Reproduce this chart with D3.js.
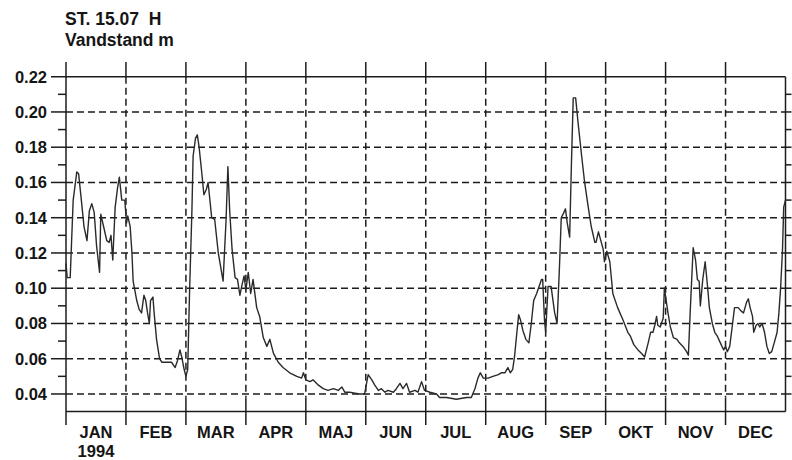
<!DOCTYPE html>
<html>
<head>
<meta charset="utf-8">
<script src="https://cdn.jsdelivr.net/npm/d3@7"></script>
<style>
  html, body { margin: 0; padding: 0; background: #fff; }
  svg { display: block; }
  text { font-family: "Liberation Sans", Arial, sans-serif; font-weight: bold; fill: #151515; }
</style>
</head>
<body>
<svg id="chart" width="792" height="460"></svg>
<script>
// ---- data ----
const titleLines = ["ST. 15.07  H", "Vandstand m"];
const months = ["JAN", "FEB", "MAR", "APR", "MAJ", "JUN", "JUL", "AUG", "SEP", "OKT", "NOV", "DEC"];
const yearLabel = "1994";
const yTickValues = [0.04, 0.06, 0.08, 0.10, 0.12, 0.14, 0.16, 0.18, 0.20, 0.22];
// time position in months since 1 Jan (equal-width months)
const monthPos = [
  // Jan
  0.00,0.02,0.07,0.12,0.18,0.21,0.25,0.30,0.35,0.39,0.43,0.47,0.51,0.56,0.58,0.62,0.68,0.72,0.75,0.78,0.82,0.86,0.89,0.93,0.98,
  // Feb
  1.01,1.03,1.07,1.10,1.12,1.18,1.22,1.26,1.30,1.33,1.36,1.39,1.41,1.45,1.47,1.51,1.56,1.60,1.68,1.76,1.82,1.86,1.90,1.93,1.97,2.00,2.03,
  // Mar
  2.06,2.10,2.12,2.16,2.19,2.22,2.26,2.30,2.34,2.37,2.43,2.48,2.54,2.59,2.62,2.67,2.70,2.73,2.77,2.82,2.86,2.90,2.93,2.97,3.00,3.04,3.08,3.12,3.18,3.23,
  // Apr - Aug
  3.29,3.35,3.40,3.46,3.54,3.62,3.73,3.85,3.93,3.96, 4.00,4.07,4.12,4.21,4.29,4.37,4.46,4.54,4.60,4.65,
  4.73,4.82,4.90,4.98,5.04,5.10,5.15,5.21,5.26,5.32, 5.37,5.46,5.51,5.57,5.62,5.68,5.73,5.82,5.87,5.93,
  5.98,6.07,6.18,6.23,6.35,6.51,6.68,6.76,6.82,6.87, 6.91,6.96,7.04,7.12,7.21,7.26,7.32,7.37,7.41,7.45,
  7.48,7.52,7.55,7.58,7.62,7.67,7.72,7.76,7.80,7.85, 7.89,7.93,
  // Sep
  7.95,7.98,8.00,8.04,8.09,8.15,8.19,8.23,8.26,8.29, 8.33,8.36,8.40,8.43,8.46,8.50,8.54,8.60,8.65,8.71,
  8.76,8.82,8.84,8.88,8.92,8.96,8.98,9.02,9.07,9.12, 9.20,9.29,9.37,
  // Oct - Dec
  9.41,9.47,9.54,9.60,9.65,9.71,9.75,9.79,9.82,9.85, 9.87,9.91,9.96,9.98,10.01,10.04,10.08,10.13,10.19,10.23,
  10.29,10.35,10.38,10.41,10.46,10.50,10.53,10.56,10.58,10.62, 10.66,10.70,10.73,10.78,10.82,10.86,10.90,10.94,10.97,11.00,
  11.03,11.07,11.11,11.15,11.21,11.26,11.30,11.35,11.38,11.41, 11.45,11.47,11.51,11.54,11.57,11.61,11.65,11.69,11.73,11.77,
  11.82,11.86,11.89,11.92,11.95,11.97,12.00
];
// water level, metres
const level = [
  // Jan
  0.114,0.106,0.106,0.150,0.166,0.165,0.152,0.135,0.127,0.144,0.148,0.143,0.124,0.109,0.142,0.136,0.127,0.126,0.130,0.116,0.146,0.157,0.163,0.150,0.150,
  // Feb
  0.137,0.141,0.135,0.120,0.104,0.093,0.088,0.086,0.096,0.093,0.086,0.080,0.093,0.095,0.086,0.071,0.060,0.058,0.058,0.058,0.055,0.059,0.065,0.061,0.054,0.050,0.054,
  // Mar
  0.097,0.144,0.175,0.185,0.187,0.180,0.167,0.153,0.156,0.160,0.140,0.139,0.120,0.110,0.104,0.139,0.169,0.144,0.122,0.106,0.105,0.096,0.101,0.107,0.099,0.109,0.097,0.105,0.089,0.084,
  // Apr - Aug
  0.072,0.067,0.071,0.063,0.058,0.055,0.052,0.050,0.049,0.052, 0.048,0.047,0.048,0.045,0.043,0.042,0.043,0.042,0.044,0.041,
  0.041,0.0405,0.040,0.040,0.051,0.048,0.045,0.042,0.043,0.041, 0.042,0.041,0.043,0.046,0.043,0.046,0.041,0.042,0.041,0.047,
  0.042,0.041,0.040,0.038,0.038,0.037,0.038,0.038,0.043,0.049, 0.052,0.049,0.049,0.050,0.051,0.052,0.052,0.055,0.052,0.054,
  0.061,0.075,0.085,0.082,0.076,0.071,0.069,0.080,0.093,0.097, 0.101,0.105,
  // Sep
  0.105,0.082,0.075,0.101,0.101,0.086,0.080,0.112,0.140,0.142, 0.145,0.137,0.129,0.171,0.208,0.208,0.194,0.175,0.160,0.146,
  0.135,0.126,0.126,0.132,0.127,0.122,0.115,0.121,0.115,0.097, 0.089,0.082,0.075,
  // Oct - Dec
  0.073,0.068,0.065,0.063,0.061,0.069,0.075,0.075,0.079,0.084, 0.079,0.078,0.083,0.100,0.093,0.086,0.078,0.072,0.071,0.069,
  0.067,0.064,0.062,0.086,0.123,0.116,0.105,0.104,0.090,0.105, 0.115,0.101,0.089,0.080,0.075,0.073,0.070,0.067,0.065,0.067,
  0.064,0.067,0.078,0.089,0.089,0.087,0.086,0.092,0.094,0.089, 0.084,0.075,0.079,0.080,0.078,0.080,0.075,0.067,0.063,0.064,
  0.070,0.075,0.086,0.101,0.122,0.146,0.150
];

// ---- layout ----
const svg = d3.select("#chart");
const ink = "#1c1c1c";
const x = d3.scaleLinear().domain([0, 12]).range([66, 785.5]);
const y = d3.scaleLinear().domain([0.03, 0.22]).range([411.6, 76.7]);
const x0 = x.range()[0], x1 = x.range()[1];
const yTop = y(0.22), yBot = y(0.03);

// title
svg.selectAll("text.title").data(titleLines).join("text")
  .attr("class", "title")
  .attr("x", 65).attr("y", (d, i) => 25 + i * 21)
  .attr("font-size", 17.5)
  .attr("xml:space", "preserve")
  .style("white-space", "pre")
  .text(d => d);

const grid = svg.append("g").attr("stroke", ink).attr("stroke-width", 1.5).attr("stroke-dasharray", "7,4").attr("fill", "none");
// horizontal dashed grid
grid.selectAll("line.h").data(yTickValues.filter(v => v < 0.215)).join("line")
  .attr("x1", x0).attr("x2", x1)
  .attr("y1", d => y(d)).attr("y2", d => y(d));
// vertical dashed grid at month boundaries
grid.selectAll("line.v").data(d3.range(1, 12)).join("line")
  .attr("y1", yTop).attr("y2", yBot - 14)
  .attr("x1", d => x(d)).attr("x2", d => x(d));

const axes = svg.append("g").attr("stroke", ink).attr("stroke-width", 1.5).attr("fill", "none");
// frame lines
axes.append("line").attr("x1", x0).attr("x2", x0).attr("y1", 62).attr("y2", 425);       // left axis
axes.append("line").attr("x1", 51).attr("x2", x1).attr("y1", yTop).attr("y2", yTop);    // top
axes.append("line").attr("x1", x0).attr("x2", x1).attr("y1", yBot).attr("y2", yBot);    // bottom
axes.append("line").attr("x1", x1).attr("x2", x1).attr("y1", yTop).attr("y2", yBot);    // right
// month ticks top & bottom
axes.selectAll("line.tt").data(d3.range(1, 12)).join("line")
  .attr("x1", d => x(d)).attr("x2", d => x(d)).attr("y1", 62).attr("y2", yTop);
axes.selectAll("line.bt").data(d3.range(1, 12)).join("line")
  .attr("x1", d => x(d)).attr("x2", d => x(d)).attr("y1", yBot - 14).attr("y2", 425);
// left major / minor ticks
axes.selectAll("line.lmaj").data(yTickValues.filter(v => v < 0.215)).join("line")
  .attr("x1", 51).attr("x2", x0).attr("y1", d => y(d)).attr("y2", d => y(d));
const minorVals = d3.range(5, 22, 2).map(v => v / 100);
axes.selectAll("line.lmin").data(minorVals).join("line")
  .attr("x1", 58).attr("x2", x0).attr("y1", d => y(d)).attr("y2", d => y(d));
// right ticks every 0.01
axes.selectAll("line.rt").data(d3.range(4, 22).map(v => v / 100)).join("line")
  .attr("x1", x1).attr("x2", x1 + 6).attr("y1", d => y(d)).attr("y2", d => y(d));

// y labels
svg.selectAll("text.ylab").data(yTickValues).join("text")
  .attr("class", "ylab")
  .attr("x", 47).attr("y", d => y(d)).attr("dy", "0.36em")
  .attr("text-anchor", "end").attr("font-size", 16.5)
  .text(d => d3.format(".2f")(d));

// month labels
svg.selectAll("text.mlab").data(months).join("text")
  .attr("class", "mlab")
  .attr("x", (d, i) => x(i + 0.5)).attr("y", 437.5)
  .attr("text-anchor", "middle").attr("font-size", 16.5)
  .text(d => d);
svg.append("text").attr("x", x(0.5)).attr("y", 456.5).attr("text-anchor", "middle")
  .attr("font-size", 16.5).text(yearLabel);

// data line
const pts = monthPos.map((t, i) => [t, level[i]]);
svg.append("path").datum(pts)
  .attr("fill", "none").attr("stroke", "#2a2a2a").attr("stroke-width", 1.4)
  .attr("stroke-linejoin", "round")
  .attr("d", d3.line().x(d => x(d[0])).y(d => y(d[1])));
</script>
</body>
</html>
